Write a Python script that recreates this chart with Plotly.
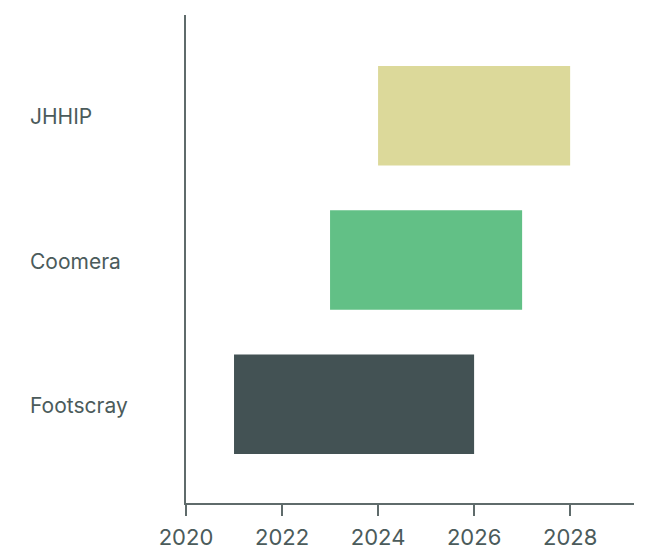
import plotly.graph_objects as go

# Project timelines (start / end year)
projects = ["Footscray", "Coomera", "JHHIP"]
start_year = [2021, 2023, 2024]
end_year = [2026, 2027, 2028]
bar_colors = ["#435254", "#62c086", "#dcd99a"]

tick_years = [2020, 2022, 2024, 2026, 2028]

text_color = "#4b5b5b"
axis_color = "#5f6b6b"
font_family = "Inter, Roboto, sans-serif"

durations = [e - s for s, e in zip(start_year, end_year)]

fig = go.Figure(
    go.Bar(
        y=list(range(len(projects))),
        x=durations,
        base=start_year,
        orientation="h",
        width=0.69,
        marker=dict(color=bar_colors, line=dict(width=0)),
        hoverinfo="skip",
    )
)

# Left-aligned category labels
for i, name in enumerate(projects):
    fig.add_annotation(
        x=-0.353, y=i, xref="paper", yref="y",
        text=name, showarrow=False, xanchor="left", yanchor="middle",
        yshift=-1,
        font=dict(family=font_family, size=21, color=text_color),
    )

fig.update_layout(
    width=650, height=552,
    margin=dict(l=186, r=16, t=15, b=49),
    paper_bgcolor="white", plot_bgcolor="white",
    showlegend=False,
    xaxis=dict(
        range=[2020, 2029.33],
        tickvals=tick_years,
        ticktext=[str(t) for t in tick_years],
        automargin=False,
        showgrid=False, zeroline=False,
        showline=True, linecolor=axis_color, linewidth=1.5,
        ticks="outside", ticklen=11, tickcolor=axis_color, tickwidth=1.5,
        ticklabelstandoff=3,
        tickfont=dict(family=font_family, size=22, color=text_color),
    ),
    yaxis=dict(
        range=[-0.684, 2.698],
        automargin=False,
        showticklabels=False,
        showgrid=False, zeroline=False,
        showline=True, linecolor=axis_color, linewidth=1.5,
        ticks="",
    ),
)

fig.write_html("out.html")
